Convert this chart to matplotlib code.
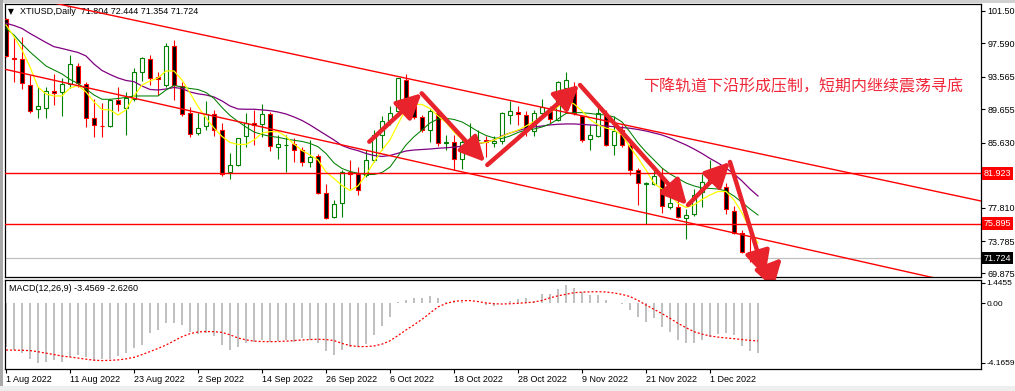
import matplotlib
matplotlib.use('Agg')
import matplotlib.pyplot as plt
import matplotlib.transforms as mtransforms
from matplotlib.patches import Rectangle
import numpy as np

# daily candles, 1 Aug 2022 .. 9 Dec 2022
opens = [100.5, 95.8, 95.7, 92.6, 89.7, 89.8, 91.9, 91.7, 92.7, 94.9,
         92.7, 88.6, 87.7, 87.7, 90.8, 89.8, 90.9, 94.1, 95.7, 93.5,
         92.6, 97.3, 92.5, 89.2, 86.8, 87.6, 89.1, 87.1, 82.1, 82.9,
         86.4, 88.0, 87.9, 89.1, 85.1, 85.35, 85.5, 84.7, 83.3, 84.0,
         79.6, 76.7, 78.4, 82.1, 81.9, 81.7, 83.5, 86.6, 88.2, 89.4,
         93.2, 90.0, 88.7, 87.2, 89.2, 85.6, 85.7, 83.7, 85.7, 85.9,
         86.0, 85.6, 85.8, 89.0, 89.3, 89.0, 87.0, 89.2, 89.8, 88.4,
         92.2, 92.4, 88.8, 86.1, 86.4, 89.0, 85.4, 87.2, 85.4, 82.4,
         80.7, 80.7, 81.5, 77.9, 77.9, 76.5, 77.0, 79.7, 80.8, 81.5,
         80.3, 77.4, 74.7, 72.5, 71.804]
highs = [100.7, 98.4, 98.4, 93.8, 92.4, 92.3, 93.9, 93.4, 96.2, 95.2,
         92.9, 90.9, 90.4, 90.9, 92.4, 91.7, 94.6, 95.9, 96.2, 94.2,
         97.7, 98.0, 93.0, 89.9, 89.2, 90.6, 89.6, 88.0, 84.4, 86.25,
         89.2, 89.6, 90.3, 89.3, 86.6, 86.6, 86.2, 85.1, 85.9, 84.3,
         80.7, 78.7, 82.3, 83.5, 82.7, 84.8, 87.1, 88.8, 90.0, 93.45,
         93.9, 91.4, 89.0, 89.8, 89.4, 86.6, 86.6, 86.2, 88.0, 87.2,
         86.4, 86.4, 89.3, 90.6, 90.0, 89.4, 89.6, 90.9, 90.0, 93.1,
         94.2, 93.0, 89.0, 87.8, 90.4, 89.6, 88.8, 87.8, 86.0, 82.6,
         80.95, 82.9, 82.6, 79.1, 80.3, 77.6, 80.1, 81.9, 83.6, 82.1,
         80.8, 78.0, 75.1, 74.3, 72.444]
lows = [95.9, 93.0, 92.1, 89.2, 88.6, 88.6, 90.2, 88.8, 92.2, 92.4,
        87.5, 86.3, 86.3, 87.5, 89.4, 86.6, 90.7, 93.1, 92.6, 91.4,
        92.4, 90.8, 88.9, 86.3, 86.6, 87.2, 86.4, 81.6, 81.3, 82.8,
        85.1, 85.4, 86.3, 84.6, 83.7, 82.1, 83.3, 82.8, 82.7, 79.5,
        76.45, 76.6, 76.7, 80.1, 79.3, 81.5, 83.3, 84.8, 87.8, 89.2,
        90.8, 88.5, 86.9, 85.7, 85.2, 84.7, 82.3, 82.5, 84.9, 85.3,
        83.9, 85.1, 85.5, 87.9, 87.8, 86.4, 86.4, 89.0, 88.0, 88.3,
        91.6, 89.0, 85.7, 84.8, 86.3, 85.2, 84.1, 85.1, 81.7, 78.1,
        75.8, 80.5, 77.2, 77.7, 76.6, 74.0, 76.8, 77.9, 80.6, 80.4,
        77.0, 74.6, 72.4, 71.2, 71.354]
closes = [96.1, 95.7, 92.8, 89.5, 90.1, 91.8, 91.6, 92.7, 95.1, 92.8,
          88.6, 87.8, 87.65, 90.8, 90.3, 91.0, 94.1, 95.8, 93.4, 93.3,
          97.3, 92.6, 89.1, 86.7, 87.4, 89.1, 87.2, 81.9, 82.9, 86.2,
          88.0, 87.8, 89.1, 85.2, 85.5, 85.4, 84.7, 83.3, 83.9, 79.6,
          76.5, 78.3, 82.1, 81.9, 79.9, 83.5, 86.6, 88.2, 89.2, 93.4,
          91.0, 88.7, 87.2, 89.4, 85.6, 85.7, 83.7, 85.7, 86.0, 86.0,
          85.7, 85.8, 89.2, 89.4, 89.1, 87.0, 89.2, 89.9, 88.5, 93.0,
          93.2, 89.2, 85.9, 86.5, 89.2, 85.4, 87.0, 85.4, 82.4, 80.8,
          80.75, 81.6, 78.0, 78.4, 76.7, 76.9, 79.3, 80.9, 81.7, 80.6,
          77.6, 74.8, 72.5, 72.0, 71.724]

# moving averages as drawn on the chart (yellow / green / purple)
ma_yellow = [99.81, 98.40, 96.80, 94.75, 92.34, 91.50, 91.26, 91.26, 92.22, 92.52,
             91.74, 90.54, 89.63, 89.58, 88.97, 89.58, 91.26, 92.58, 93.07, 93.43,
             94.27, 94.27, 93.19, 91.62, 89.97, 88.61, 87.40, 86.38, 85.66, 85.42,
             85.42, 85.96, 86.80, 86.96, 86.96, 86.38, 85.47, 84.69, 84.15, 83.55,
             82.10, 81.32, 80.47, 79.87, 80.42, 81.74, 83.31, 84.75, 85.96, 87.89,
             89.69, 90.24, 90.24, 89.75, 88.85, 88.07, 86.92, 86.02, 85.66, 85.56,
             85.66, 85.96, 86.38, 86.80, 87.16, 87.64, 88.19, 88.67, 89.27, 89.97,
             90.66, 90.30, 89.45, 88.43, 87.77, 87.40, 87.16, 86.56, 85.11, 83.79,
             82.34, 80.74, 80.05, 79.33, 78.33, 77.82, 78.13, 78.79, 79.33, 79.75,
             79.75, 78.73, 77.16, 75.24, 73.55]
ma_green = [99.42, 98.61, 97.52, 96.56, 95.72, 94.87, 94.39, 93.91, 93.25, 92.76,
            92.10, 91.38, 90.86, 90.86, 90.96, 91.08, 91.26, 91.26, 91.26, 91.26,
            91.98, 92.53, 92.34, 92.16, 92.04, 91.68, 90.96, 89.87, 88.91, 88.19,
            87.52, 86.92, 86.62, 86.40, 86.28, 86.08, 85.92, 85.78, 85.54, 85.15,
            84.33, 83.19, 82.52, 82.16, 81.95, 81.80, 81.80, 82.04, 82.70, 84.03,
            85.36, 86.35, 87.16, 88.01, 88.49, 88.57, 88.43, 88.13, 87.58, 86.98,
            86.50, 86.20, 86.14, 86.44, 86.86, 87.16, 87.28, 87.52, 87.89, 88.49,
            89.15, 89.25, 89.25, 89.15, 89.03, 88.97, 88.73, 88.13, 86.92, 85.60,
            84.51, 83.55, 82.58, 81.86, 81.32, 80.78, 80.42, 80.18, 80.12, 80.05,
            79.81, 79.21, 78.43, 77.64, 76.92]
ma_purple = [100.02, 99.75, 99.39, 98.79, 98.25, 97.70, 97.20, 96.98, 96.74, 96.50,
             96.08, 95.11, 94.33, 93.85, 93.43, 93.13, 92.98, 92.46, 92.04, 91.98,
             92.10, 92.28, 92.16, 91.74, 91.52, 91.38, 91.14, 90.66, 90.05, 89.69,
             89.66, 89.66, 89.58, 89.49, 89.33, 89.09, 88.73, 88.31, 87.77, 87.16,
             86.56, 85.96, 85.29, 84.93, 84.67, 84.33, 84.09, 83.97, 84.09, 84.36,
             84.63, 84.75, 84.81, 84.87, 84.96, 85.02, 85.09, 85.21, 85.36, 85.47,
             85.72, 85.96, 86.44, 86.80, 87.10, 87.34, 87.52, 87.64, 87.77, 87.85,
             87.89, 87.89, 87.83, 87.77, 87.71, 87.64, 87.56, 87.46, 87.37, 87.22,
             87.04, 86.80, 86.56, 86.20, 85.78, 85.36, 84.87, 84.33, 83.73, 83.19,
             82.58, 81.86, 81.02, 80.05, 79.21]

# MACD(12,26,9): main (histogram) and signal (dotted)
macd_main = [-3.02, -3.26, -3.44, -3.91, -4.17, -4.12, -3.95, -4.07, -3.77, -3.60,
             -3.77, -4.00, -3.91, -3.91, -3.67, -3.44, -3.14, -2.91, -2.09, -1.86,
             -1.35, -1.35, -1.51, -1.98, -2.14, -2.09, -2.28, -2.91, -3.26, -3.07,
             -2.79, -2.67, -2.56, -2.67, -2.60, -2.56, -2.67, -2.44, -2.56, -2.74,
             -3.30, -3.60, -3.26, -3.07, -3.07, -2.84, -2.21, -1.58, -0.98, 0.10,
             0.23, 0.35, 0.35, 0.51, 0.35, 0.12, 0.19, 0.09, 0.02, 0.05,
             -0.12, -0.19, 0.05, 0.19, 0.28, 0.35, 0.19, 0.65, 0.65, 0.98,
             1.30, 1.05, 0.81, 0.58, 0.58, 0.23, 0.02, -0.02, -0.47, -0.93,
             -1.28, -1.05, -1.63, -1.98, -2.56, -2.79, -2.79, -2.56, -2.33, -2.14,
             -2.09, -2.21, -2.95, -3.30, -3.4569]
macd_signal = [-3.26, -3.27, -3.28, -3.30, -3.38, -3.48, -3.58, -3.68, -3.75, -3.82,
               -3.90, -3.97, -4.00, -3.98, -3.95, -3.88, -3.77, -3.58, -3.37, -3.15,
               -2.91, -2.62, -2.33, -2.12, -2.00, -1.97, -1.98, -2.03, -2.20, -2.42,
               -2.55, -2.64, -2.67, -2.68, -2.67, -2.64, -2.60, -2.56, -2.53, -2.51,
               -2.53, -2.60, -2.80, -2.95, -3.02, -3.02, -2.98, -2.85, -2.62, -2.25,
               -1.86, -1.50, -1.12, -0.68, -0.25, -0.02, 0.14, 0.18, 0.19, 0.12,
               0.03, -0.03, -0.05, -0.03, 0.00, 0.04, 0.09, 0.20, 0.38, 0.52,
               0.63, 0.74, 0.78, 0.80, 0.81, 0.79, 0.72, 0.62, 0.47, 0.20,
               -0.12, -0.42, -0.72, -1.05, -1.40, -1.70, -1.98, -2.15, -2.28, -2.36,
               -2.42, -2.47, -2.53, -2.59, -2.626]

date_bars = [0, 8, 16, 24, 32, 40, 48, 56, 64, 72, 80, 88]
date_labels = ['1 Aug 2022', '11 Aug 2022', '23 Aug 2022', '2 Sep 2022', '14 Sep 2022',
               '26 Sep 2022', '6 Oct 2022', '18 Oct 2022', '28 Oct 2022', '9 Nov 2022',
               '21 Nov 2022', '1 Dec 2022']
price_ticks = [101.50, 97.590, 93.565, 89.655, 85.630, 81.720, 77.810, 73.785, 69.875]
# the 81.720 label sits under the 81.923 price box on the chart
price_tick_labels = ['101.50', '97.590', '93.565', '89.655', '85.630', '',
                     '77.810', '73.785', '69.875']
macd_ticks = [1.4455, 0.0, -4.1659]
macd_tick_labels = ['1.4455', '0.00', '-4.1659']

levels = [81.923, 75.895]
last_price = closes[-1]
# channel trendlines: (bar, price) anchors
channel_upper = [(0, 103.69), (122, 78.58)]
channel_lower = [(0, 94.45), (122, 68.05)]
# hand-drawn zigzag arrows: (start, tip)
arrows = [((45.41, 85.75), (51.96, 91.58)),
          ((51.96, 91.58), (59.88, 83.31)),
          ((60.16, 82.95), (71.66, 92.58)),
          ((71.75, 92.58), (85.13, 78.13)),
          ((85.25, 78.13), (90.50, 83.31)),
          ((90.50, 83.31), (94.88, 69.51)),
          ((94.88, 69.51), (97.00, 71.74))]
comment = '下降轨道下沿形成压制，短期内继续震荡寻底'

plt.rcParams['font.family'] = ['Liberation Sans', 'DejaVu Sans']

BULL = '#008000'
BEAR = '#ff0000'

fig = plt.figure(figsize=(10.15, 3.91), dpi=100)
fig.patch.set_facecolor('white')
ax = fig.add_axes([0.00493, 0.29156, 0.96157, 0.69821])
ax2 = fig.add_axes([0.00493, 0.05627, 0.96157, 0.22762], sharex=ax)

# window frame strips
fig.patches.append(Rectangle((0, 1 - 3 / 391), 1, 3 / 391, transform=fig.transFigure,
                             fc='#d0d0d0', ec='none'))
fig.patches.append(Rectangle((0, 0), 3 / 1015, 1, transform=fig.transFigure,
                             fc='#a8a8a8', ec='none'))
fig.patches.append(Rectangle((0, 0), 1, 5 / 391, transform=fig.transFigure,
                             fc='#eeeeee', ec='none'))

x = np.arange(len(closes))
o = np.array(opens)
h = np.array(highs)
l = np.array(lows)
c = np.array(closes)
up = c >= o
body_lo = np.minimum(o, c)
body_h = np.maximum(np.abs(c - o), 0.02)

ax.vlines(x[up], l[up], h[up], color=BULL, lw=0.8, zorder=2)
ax.vlines(x[~up], l[~up], h[~up], color=BEAR, lw=0.8, zorder=2)
ax.bar(x[up], body_h[up], bottom=body_lo[up], width=0.62, facecolor='white',
       edgecolor=BULL, lw=0.8, zorder=3)
ax.bar(x[~up], body_h[~up], bottom=body_lo[~up], width=0.62, facecolor='black',
       edgecolor=BEAR, lw=0.8, zorder=3)

ax.plot(x, ma_purple, color='#800080', lw=0.9, zorder=4)
ax.plot(x, ma_green, color='#008000', lw=0.75, zorder=4)
ax.plot(x, ma_yellow, color='#ffff00', lw=0.9, zorder=4)

for lvl in levels:
    ax.axhline(lvl, color=BEAR, lw=1.0, zorder=4)
ax.axhline(last_price, color='#c0c0c0', lw=0.9, zorder=1)

for line in (channel_upper, channel_lower):
    ax.plot([p[0] for p in line], [p[1] for p in line], color=BEAR, lw=1.0, zorder=4)

for start, tip in arrows:
    ax.annotate('', xy=tip, xytext=start, annotation_clip=False, zorder=6,
                arrowprops=dict(arrowstyle='-|>,head_length=1.0,head_width=0.5',
                                mutation_scale=15, lw=3.2, color='#e8232b',
                                shrinkA=0, shrinkB=0))

ax.text(0.654, 0.695, comment, transform=ax.transAxes, fontsize=11.5, color='#f0283a',
        family=['Noto Sans CJK SC', 'DejaVu Sans'], ha='left', va='center', zorder=7)

ax.text(0.003, 0.972, '▼', transform=ax.transAxes, fontsize=5.5,
        family=['DejaVu Sans'], ha='left', va='center')
ax.text(0.0154, 0.972,
        f'XTIUSD,Daily  {opens[-1]:.3f} {highs[-1]:.3f} {lows[-1]:.3f} {closes[-1]:.3f}',
        transform=ax.transAxes, fontsize=6.5, ha='left', va='center')

trans = mtransforms.blended_transform_factory(ax.transAxes, ax.transData)
for lvl in levels:
    ax.text(1.0025, lvl, f'{lvl:.3f}', transform=trans, color='white', fontsize=6.5,
            ha='left', va='center', clip_on=False, zorder=10,
            bbox=dict(boxstyle='square,pad=0.2', fc=BEAR, ec='none'))
ax.text(1.0025, last_price, f'{last_price:.3f}', transform=trans, color='white',
        fontsize=6.5, ha='left', va='center', clip_on=False, zorder=10,
        bbox=dict(boxstyle='square,pad=0.2', fc='black', ec='none'))

ax.set_xlim(-0.125, 121.875)
ax.set_ylim(69.45, 102.34)
ax.yaxis.tick_right()
ax.set_yticks(price_ticks)
ax.set_yticklabels(price_tick_labels)
ax.tick_params(axis='y', which='both', right=True, left=False, length=3, width=0.8,
               pad=1.5, labelsize=6.5, direction='out')
ax.tick_params(axis='x', which='both', bottom=False, labelbottom=False)
for sp in ax.spines.values():
    sp.set_color('black')
    sp.set_linewidth(0.9)

# MACD panel
ax2.bar(x, macd_main, width=0.22, color='#c0c0c0', zorder=2)
ax2.plot(x, macd_signal, color=BEAR, lw=0.9, linestyle=(0, (1.6, 1.6)), zorder=3)
ax2.set_ylim(-4.585, 1.626)
ax2.yaxis.tick_right()
ax2.set_yticks(macd_ticks)
ax2.set_yticklabels(macd_tick_labels)
ax2.tick_params(axis='y', right=True, left=False, length=3, width=0.8, pad=1.0,
                labelsize=6.0, direction='out')
ax2.set_xticks(date_bars)
ax2.set_xticklabels(date_labels)
ax2.tick_params(axis='x', bottom=True, length=3, width=0.8, pad=1.5, labelsize=6.5,
                direction='out')
for lab in ax2.get_xticklabels():
    lab.set_ha('left')
for sp in ax2.spines.values():
    sp.set_color('black')
    sp.set_linewidth(0.9)
ax2.text(0.004, 0.9, f'MACD(12,26,9) {macd_main[-1]:.4f} {macd_signal[-1]:.4f}',
         transform=ax2.transAxes, fontsize=6.5, ha='left', va='center')

fig.savefig('out.png', dpi=100)
